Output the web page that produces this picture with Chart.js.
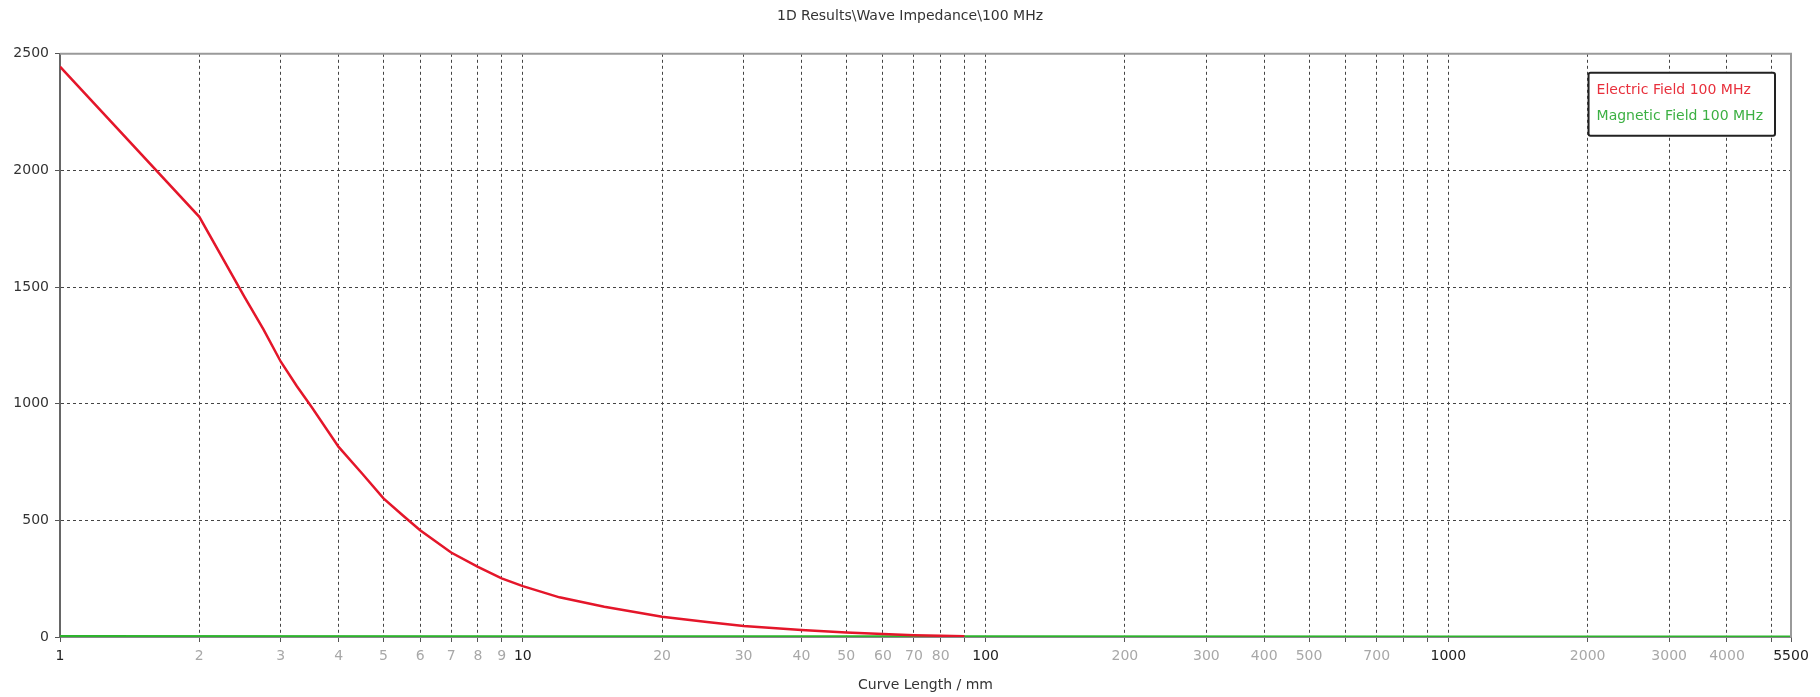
<!DOCTYPE html>
<html>
<head>
<meta charset="utf-8">
<title>Wave Impedance</title>
<script src="https://cdn.jsdelivr.net/npm/chart.js@4.4.1/dist/chart.umd.min.js"></script>
<style>
  html, body { margin: 0; padding: 0; background: #ffffff; }
  #wrap { width: 1820px; height: 697px; }
</style>
</head>
<body>
<div id="wrap"><canvas id="impedance" width="1820" height="697"></canvas></div>
<script>
// Кривые: длина кривой (мм) и волновое сопротивление
const eFieldX = [1, 2, 2.5, 2.75, 3, 3.25, 3.5, 4, 4.5, 5, 5.5, 6, 7, 8, 9, 10, 12, 15, 20, 25, 30, 40, 50, 60, 70, 80, 90];
const eFieldY = [2445, 1801, 1460, 1320, 1180, 1075, 985, 815, 700, 594, 522, 458, 362, 301, 251, 218, 170, 130, 87, 64, 47, 30, 19, 13, 8, 5, 3];
const hFieldX = [1, 10, 100, 1000, 5500];
const hFieldY = [3, 2, 2, 1, 1];

const seriesLabels = ["Electric Field 100 MHz", "Magnetic Field 100 MHz"];
const seriesColors = ["rgb(228, 22, 42)", "rgb(44, 180, 44)"];
const legendColors = ["rgb(232, 48, 60)", "rgb(60, 176, 67)"];

// Метки оси X (пустая строка = без подписи, но с линией сетки)
const xTickValues = [1, 2, 3, 4, 5, 6, 7, 8, 9, 10, 20, 30, 40, 50, 60, 70, 80, 90,
  100, 200, 300, 400, 500, 600, 700, 800, 900, 1000, 2000, 3000, 4000, 5000, 5500];
const xTickLabels = ["1", "2", "3", "4", "5", "6", "7", "8", "9", "10", "20", "30", "40", "50", "60", "70", "80", "",
  "100", "200", "300", "400", "500", "", "700", "", "", "1000", "2000", "3000", "4000", "", "5500"];
const xMajorTicks = [1, 10, 100, 1000, 5500];

const yTickValues = [0, 500, 1000, 1500, 2000, 2500];

const chartTitle = "1D Results\\Wave Impedance\\100 MHz";
const xAxisTitle = "Curve Length / mm";

const FONT = "'DejaVu Sans', Verdana, sans-serif";

// рамка графика сверху и справа
const framePlugin = {
  id: "frame",
  afterDraw(chart) {
    const { ctx, chartArea: a } = chart;
    ctx.save();
    ctx.strokeStyle = "#9a9a9a";
    ctx.lineWidth = 2;
    ctx.beginPath();
    ctx.moveTo(a.left, a.top);
    ctx.lineTo(a.right, a.top);
    ctx.lineTo(a.right, a.bottom);
    ctx.stroke();
    ctx.restore();
  }
};

// легенда в правом верхнем углу, только текст в рамке
const boxLegendPlugin = {
  id: "boxLegend",
  afterDraw(chart) {
    const { ctx, chartArea: a } = chart;
    const labels = chart.data.datasets.map(d => d.label);
    ctx.save();
    ctx.font = "14px " + FONT;
    const w = Math.max(...labels.map(t => ctx.measureText(t).width)) + 20;
    const h = 63;
    const x = a.right - 16 - w;
    const y = a.top + 19;
    ctx.fillStyle = "#ffffff";
    ctx.strokeStyle = "#222222";
    ctx.lineWidth = 2;
    ctx.beginPath();
    ctx.roundRect(x, y, w, h, 2);
    ctx.fill();
    ctx.stroke();
    ctx.textBaseline = "middle";
    ctx.textAlign = "left";
    labels.forEach((t, i) => {
      ctx.fillStyle = legendColors[i];
      ctx.fillText(t, x + 8, y + 18 + i * 26);
    });
    ctx.restore();
  }
};

const toPoints = (xs, ys) => xs.map((x, i) => ({ x: x, y: ys[i] }));

new Chart(document.getElementById("impedance"), {
  type: "line",
  data: {
    datasets: [
      {
        label: seriesLabels[0],
        data: toPoints(eFieldX, eFieldY),
        borderColor: seriesColors[0],
        borderWidth: 2.5,
        pointRadius: 0,
        tension: 0
      },
      {
        label: seriesLabels[1],
        data: toPoints(hFieldX, hFieldY),
        borderColor: seriesColors[1],
        borderWidth: 2.5,
        pointRadius: 0,
        tension: 0
      }
    ]
  },
  options: {
    responsive: false,
    animation: false,
    devicePixelRatio: 1,
    layout: { padding: 0 },
    plugins: {
      legend: { display: false },
      tooltip: { enabled: false },
      title: {
        display: true,
        text: chartTitle,
        color: "#333333",
        font: { family: FONT, size: 14, weight: "normal" },
        padding: { top: 8, bottom: 29 }
      }
    },
    scales: {
      x: {
        type: "logarithmic",
        min: 1,
        max: 5500,
        afterBuildTicks: s => { s.ticks = xTickValues.map(v => ({ value: v })); },
        afterFit: s => { s.height = 60; s.paddingRight = 29; },
        ticks: {
          autoSkip: false,
          maxRotation: 0,
          padding: 6,
          font: { family: FONT, size: 14 },
          color: c => xMajorTicks.includes(c.tick && c.tick.value) ? "#222222" : "#a8a8a8",
          callback: (v, i) => xTickLabels[i]
        },
        grid: { color: "#444444", lineWidth: 1, tickLength: 5, tickColor: "#555555" },
        border: { display: true, color: "#888888", width: 1, dash: [3, 3] },
        title: {
          display: true,
          text: xAxisTitle,
          color: "#333333",
          font: { family: FONT, size: 14 },
          padding: { top: 0, bottom: 3 }
        }
      },
      y: {
        min: 0,
        max: 2500,
        afterBuildTicks: s => { s.ticks = yTickValues.map(v => ({ value: v })); },
        afterFit: s => { s.width = 60; },
        ticks: {
          padding: 6,
          color: "#333333",
          font: { family: FONT, size: 14 },
          callback: v => String(v)
        },
        grid: { color: "#444444", lineWidth: 1, tickLength: 5, tickColor: "#555555" },
        border: { display: true, color: "#666666", width: 2, dash: [3, 3] }
      }
    }
  },
  plugins: [framePlugin, boxLegendPlugin]
});
</script>
</body>
</html>
